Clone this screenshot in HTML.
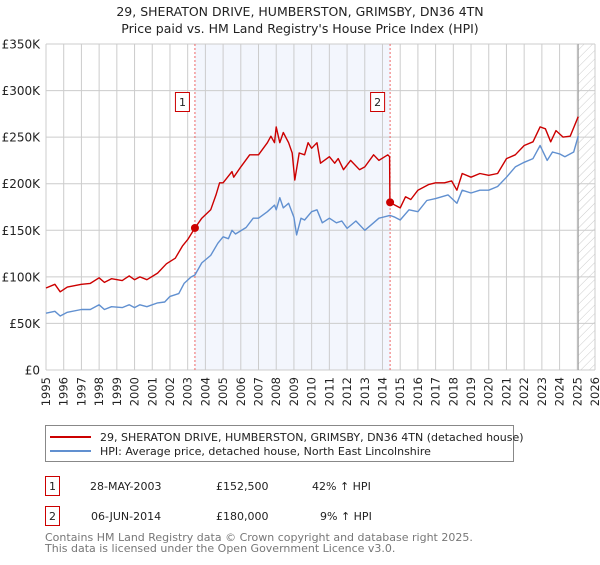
<!DOCTYPE html>
<html><head><meta charset="utf-8">
<style>
body{margin:0;background:#fff;font-family:"Liberation Sans","DejaVu Sans",sans-serif;}
svg text{font-family:"DejaVu Sans","Liberation Sans",sans-serif;}
</style></head>
<body>
<svg width="600" height="560" viewBox="0 0 600 560">
<defs>
<pattern id="hatch" width="6" height="6" patternUnits="userSpaceOnUse" patternTransform="rotate(45)">
<line x1="0" y1="0" x2="0" y2="6" stroke="#ccc" stroke-width="1"/>
</pattern>
</defs>
<text x="300" y="16" text-anchor="middle" font-size="12.5" fill="#222">29, SHERATON DRIVE, HUMBERSTON, GRIMSBY, DN36 4TN</text>
<text x="300" y="33" text-anchor="middle" font-size="12.5" fill="#222">Price paid vs. HM Land Registry's House Price Index (HPI)</text>
<g id="plot"></g>
<g>
<rect x="45.5" y="425.5" width="468" height="36" fill="#fff" stroke="#888"/>
<line x1="50" y1="437" x2="91" y2="437" stroke="#cc0000" stroke-width="2"/>
<text x="100" y="441" font-size="11" fill="#222">29, SHERATON DRIVE, HUMBERSTON, GRIMSBY, DN36 4TN (detached house)</text>
<line x1="50" y1="451" x2="91" y2="451" stroke="#6190d0" stroke-width="2"/>
<text x="100" y="455" font-size="11" fill="#222">HPI: Average price, detached house, North East Lincolnshire</text>
</g>
<g font-size="11" fill="#222">
<rect x="45.5" y="476.5" width="14" height="19" fill="#fff" stroke="#cc0000"/>
<text x="52.5" y="490" text-anchor="middle">1</text>
<text x="90" y="490">28-MAY-2003</text>
<text x="216" y="490">£152,500</text>
<text x="312" y="490">42% ↑ HPI</text>
<rect x="45.5" y="506.5" width="14" height="19" fill="#fff" stroke="#cc0000"/>
<text x="52.5" y="520" text-anchor="middle">2</text>
<text x="91" y="520">06-JUN-2014</text>
<text x="216" y="520">£180,000</text>
<text x="320" y="520">9% ↑ HPI</text>
</g>
<text x="45" y="541" font-size="11" fill="#777">Contains HM Land Registry data © Crown copyright and database right 2025.</text>
<text x="45" y="552" font-size="11" fill="#777">This data is licensed under the Open Government Licence v3.0.</text>
</svg>
<script>
const hpiDates=[1995,1995.5,1995.8,1996.2,1997,1997.5,1998,1998.3,1998.7,1999.3,1999.7,2000,2000.3,2000.7,2001.3,2001.7,2002,2002.5,2002.8,2003.2,2003.41,2003.8,2004.3,2004.7,2005,2005.3,2005.5,2005.7,2006.3,2006.7,2007,2007.5,2007.9,2008,2008.2,2008.4,2008.7,2009,2009.15,2009.4,2009.6,2010,2010.3,2010.6,2011,2011.4,2011.7,2012,2012.5,2013,2013.5,2013.8,2014.42,2014.7,2015,2015.5,2016,2016.5,2017,2017.7,2018.2,2018.5,2019,2019.5,2020,2020.5,2021,2021.5,2022,2022.5,2022.9,2023.3,2023.6,2024,2024.3,2024.8,2025.05];
const hpiValues=[61,63,58,62,65,65,70,65,68,67,70,67,70,68,72,73,79,82,93,100,102,115,123,136,143,141,150,146,153,163,163,170,177,172,185,174,179,164,145,163,161,170,172,158,163,158,160,152,160,150,158,163,166,164,161,172,170,182,184,188,179,193,190,193,193,197,207,218,223,227,241,225,234,232,229,234,251];
const propDates=[1995,1995.5,1995.8,1996.2,1997,1997.5,1998,1998.3,1998.7,1999.3,1999.7,2000,2000.3,2000.7,2001.3,2001.8,2002.3,2002.7,2003,2003.41,2003.8,2004.3,2004.6,2004.8,2005,2005.5,2005.6,2006,2006.5,2007,2007.5,2007.7,2007.9,2008,2008.2,2008.4,2008.7,2008.9,2009.05,2009.3,2009.6,2009.8,2010,2010.3,2010.5,2011,2011.3,2011.5,2011.8,2012.2,2012.7,2013,2013.5,2013.8,2014.3,2014.4,2014.42,2014.7,2015,2015.3,2015.6,2016,2016.6,2017,2017.5,2017.9,2018.2,2018.5,2019,2019.5,2020,2020.5,2021,2021.5,2022,2022.5,2022.9,2023.2,2023.5,2023.8,2024.2,2024.6,2025.05];
const propValues=[88,92,84,89,92,93,99,94,98,96,101,97,100,97,104,114,120,133,140,152.5,163,172,188,201,201,213,207,218,231,231,244,251,244,261,244,255,244,233,204,233,231,244,238,244,222,229,222,227,215,225,215,218,231,225,231,229,180,177,174,186,183,193,199,201,201,203,193,211,207,211,209,211,227,231,241,245,261,259,245,257,250,251,272];
const yTicks=[0,50,100,150,200,250,300,350];
const yTickLabels=["£0","£50K","£100K","£150K","£200K","£250K","£300K","£350K"];
const xYears=[1995,1996,1997,1998,1999,2000,2001,2002,2003,2004,2005,2006,2007,2008,2009,2010,2011,2012,2013,2014,2015,2016,2017,2018,2019,2020,2021,2022,2023,2024,2025,2026];
const saleDates=[2003.41,2014.43];
const salePrices=[152.5,180];
const saleLabels=["1","2"];
const dataEndYear=2025.05;

const X0=46,X1=595,Y0=370,Y1=44;
const xs=y=>X0+(y-1995)/(2026-1995)*(X1-X0);
const ys=v=>Y0-v/350*(Y0-Y1);
const NS="http://www.w3.org/2000/svg";
const plot=document.getElementById('plot');
function mk(tag,attrs,parent){const e=document.createElementNS(NS,tag);for(const k in attrs)e.setAttribute(k,attrs[k]);(parent||plot).appendChild(e);return e;}

const bg=mk('rect',{x:X0,y:Y1,width:X1-X0,height:Y0-Y1,fill:'#fff'});


const shade=mk('rect',{x:xs(saleDates[0]),y:Y1,width:xs(saleDates[1])-xs(saleDates[0]),height:Y0-Y1,fill:'#f3f6fd'});


const hatch=mk('rect',{x:xs(dataEndYear),y:Y1,width:X1-xs(dataEndYear),height:Y0-Y1,fill:'url(#hatch)'});



xYears.forEach(yr=>{
  const gl=mk('line',{x1:xs(yr),x2:xs(yr),y1:Y1,y2:Y0,stroke:'#ccc','stroke-width':1});
  
  
  const t=mk('text',{x:0,y:0,'font-size':11.5,fill:'#222','text-anchor':'end',transform:`translate(${xs(yr)+4},${Y0+7}) rotate(-90)`});
  t.textContent=yr;
  
  
});
yTicks.forEach((v,i)=>{
  const gl=mk('line',{x1:X0,x2:X1,y1:ys(v),y2:ys(v),stroke:'#ccc','stroke-width':1});
  
  
  const t=mk('text',{x:X0-6,y:ys(v)+4.5,'font-size':12,fill:'#222','text-anchor':'end'});
  t.textContent=yTickLabels[i];
  
  
});
const endLine=mk('line',{x1:xs(dataEndYear),x2:xs(dataEndYear),y1:Y1,y2:Y0,stroke:'#999','stroke-width':1});



saleDates.forEach((d,i)=>{
  const l=mk('line',{x1:xs(d),x2:xs(d),y1:Y1,y2:Y0,stroke:'#e66','stroke-width':1,'stroke-dasharray':'2,2'});
  
  
});

function path(dates,vals,color,name){
  const d=dates.map((t,i)=>(i?'L':'M')+xs(t).toFixed(1)+','+ys(vals[i]).toFixed(1)).join('');
  const p=mk('path',{d:d,fill:'none',stroke:color,'stroke-width':1.4,'stroke-linejoin':'round'});
  
  
}
path(hpiDates,hpiValues,'#6190d0','hpi-line');
path(propDates,propValues,'#cc0000','property-price-line');

saleDates.forEach((d,i)=>{
  const c=mk('circle',{cx:xs(d),cy:ys(salePrices[i]),r:4,fill:'#cc0000'});
  
  
  const bx=xs(d)-6-14;
  const r=mk('rect',{x:bx+0.5,y:92.5,width:14,height:19,fill:'#fff',stroke:'#cc0000'});
  
  
  const t=mk('text',{x:bx+7.5,y:106,'font-size':11,fill:'#222','text-anchor':'middle'});
  t.textContent=saleLabels[i];
  
  
});
</script>
</body></html>
